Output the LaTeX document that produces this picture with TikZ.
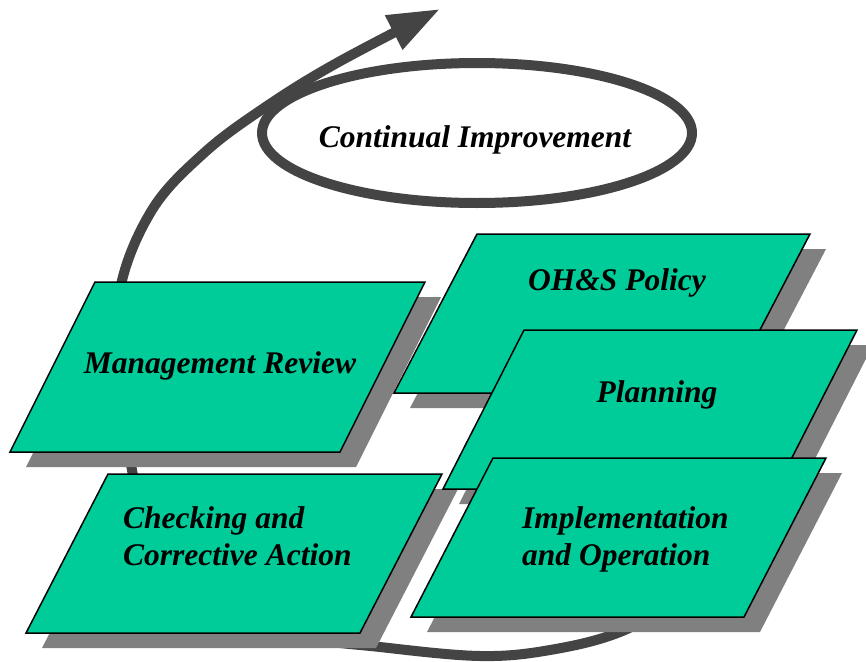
\documentclass[tikz,border=0pt]{standalone}
\usepackage{fontspec}
\setmainfont{Liberation Serif}
\usetikzlibrary{arrows.meta,shapes.geometric}
\definecolor{boxgreen}{HTML}{00CC99}
\definecolor{shadowgray}{HTML}{808080}
\definecolor{loopgray}{HTML}{444444}
\tikzset{
  loopline/.style={draw=loopgray, line width=10pt, line cap=round},
  boxshape/.style={fill=boxgreen, draw=black, line width=1.5pt, line join=miter},
  boxshadow/.style={fill=shadowgray},
  lbl/.style={font=\fontsize{31.5}{37}\selectfont\bfseries\itshape, inner sep=0pt, text=black},
}
\newcommand\pgbox[5]{%
  \path[boxshadow] (#1+16,#2+15) -- ++(#3,0) -- ++(-#5,#4) -- ++(-#3,0) -- cycle;
  \path[boxshape] (#1,#2) -- ++(#3,0) -- ++(-#5,#4) -- ++(-#3,0) -- cycle;}
\begin{document}
\begin{tikzpicture}[x=1pt,y=-1pt]
\useasboundingbox[fill=white] (0,0) rectangle (866,661);
% big arrow
\coordinate (astart) at (690,595);
\coordinate (atip) at (440,9);
\draw[loopline, -{Triangle[length=52pt,width=36pt]}]
  plot[smooth, tension=0.6] coordinates {(astart) (620,632) (550,650) (480,656) (380,647) (300,636) (200,603) (150,543) (132,470) (121,380) (120,290) (152,210) (204,153) (264,108) (335,64) (atip)};
% ellipse
\node[draw=loopgray, line width=10pt, ellipse, minimum width=430pt, minimum height=140pt] (loop) at (477,133) {};
\node[lbl, fill=white, inner xsep=22pt, inner ysep=9pt, anchor=base] (ci) at (475,147) {Continual Improvement};
% boxes
\pgbox{95}{282}{330}{170}{85}
\pgbox{108}{474}{334}{159}{82}
\pgbox{477}{234}{333}{159}{83}
\pgbox{524}{330}{333}{159}{81}
\pgbox{493}{458}{333}{159}{82}
% labels
\node[lbl, anchor=base] (mr) at (220,373) {Management Review};
\node[lbl, anchor=base] (pol) at (617,290) {OH\&S Policy};
\node[lbl, anchor=base] (plan) at (657,402) {Planning};
\node[lbl, anchor=base west, align=left] (chk) at (123,565) {Checking and\\Corrective Action};
\node[lbl, anchor=base west, align=left] (imp) at (522,565) {Implementation\\and Operation};
\end{tikzpicture}
\end{document}
